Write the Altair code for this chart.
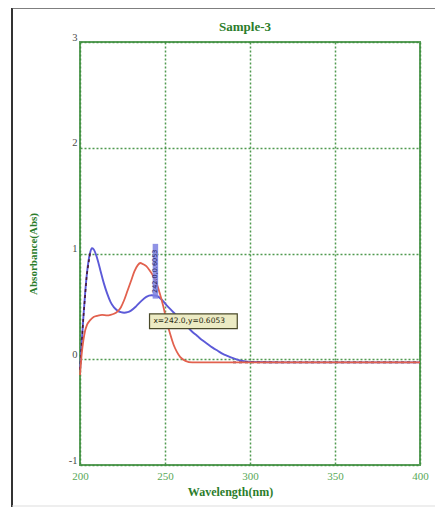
import altair as alt
import pandas as pd

# ---- data ----
blue_wl = [200, 201, 202, 203, 204, 205, 206, 207, 208, 210, 212, 214, 216, 218, 220, 222, 224, 226,
           228, 230, 233, 236, 239, 242, 245, 248, 251, 254, 257, 260, 263, 266, 269, 272, 275, 278,
           281, 284, 287, 290, 294, 300, 320, 350, 380, 400]
blue_abs = [-0.10, 0.15, 0.40, 0.62, 0.80, 0.93, 1.01, 1.05, 1.04, 0.96, 0.84, 0.72, 0.62, 0.54, 0.49,
            0.46, 0.445, 0.44, 0.445, 0.46, 0.50, 0.55, 0.59, 0.6053, 0.60, 0.565, 0.51, 0.46, 0.41,
            0.36, 0.31, 0.26, 0.22, 0.18, 0.145, 0.11, 0.08, 0.05, 0.03, 0.01, -0.01, -0.025, -0.03,
            -0.03, -0.03, -0.03]

red_wl = [200, 201, 202, 203, 204, 206, 208, 210, 213, 216, 218, 220, 222, 224, 226, 228, 230, 232,
          234, 235.5, 237, 239, 241, 243, 245, 247, 249, 251, 253, 255, 257, 259, 262, 266, 300, 350, 400]
red_abs = [-0.15, 0.05, 0.18, 0.27, 0.32, 0.37, 0.40, 0.41, 0.42, 0.415, 0.42, 0.43, 0.45, 0.49, 0.56,
           0.65, 0.74, 0.83, 0.89, 0.91, 0.90, 0.88, 0.84, 0.79, 0.72, 0.62, 0.50, 0.36, 0.24, 0.14,
           0.07, 0.02, -0.015, -0.03, -0.03, -0.03, -0.03]

dash_wl = [200, 202, 204, 206, 290, 320, 350, 380, 400]
dash_abs = [-0.10, 0.40, 0.80, 1.01, -0.03, -0.03, -0.03, -0.03, -0.03]
dash_seg = [1, 1, 1, 1, 2, 2, 2, 2, 2]

x_ticks = [200, 250, 300, 350, 400]
y_ticks = [-1, 0, 1, 2, 3]

ann_x = 242.0
ann_y = 0.6053
ann_label = "x=242.0,y=0.6053"
peak_label = "242.0,0.6053"
title_text = "Sample-3"

GREEN = "#3d8f3d"
TITLE_GREEN = "#2b7d2b"
SERIF = "Liberation Serif"

blue_df = pd.DataFrame({"wl": blue_wl, "abs": blue_abs})
red_df = pd.DataFrame({"wl": red_wl, "abs": red_abs})
dash_df = pd.DataFrame({"wl": dash_wl, "abs": dash_abs, "seg": dash_seg})
ann_df = pd.DataFrame({"wl": [ann_x], "abs": [ann_y], "label": [ann_label], "peak": [peak_label],
                       "title": [title_text]})

xs = alt.Scale(domain=[200, 400], nice=False, zero=False)
ys = alt.Scale(domain=[-1, 3], nice=False, zero=False)

x_axis = alt.Axis(values=x_ticks, title="Wavelength(nm)", grid=True, gridColor=GREEN, gridDash=[2, 2],
                  gridWidth=1.5, gridOpacity=0.9, ticks=False, domain=False, labelFont=SERIF,
                  labelFontSize=11, labelColor="#58a858", labelPadding=5, format="d", titleFont=SERIF,
                  titleFontSize=12, titleFontWeight="bold", titleColor=TITLE_GREEN, titlePadding=0,
                  titleX=150, titleY=21, titleBaseline="top", labelFlush=False)
y_axis = alt.Axis(values=y_ticks, title="Absorbance(Abs)", grid=True, gridColor=GREEN, gridDash=[2, 2],
                  gridWidth=1.5, gridOpacity=0.9, ticks=False, domain=False, labelFont=SERIF,
                  labelFontSize=10.5, labelColor="#4a4a4a", labelPadding=3, labelBaseline="bottom",
                  labelExpr="replace(datum.label, '\u2212', '-')",
                  format="d", titleFont=SERIF, titleFontSize=11, titleFontWeight="bold",
                  titleColor=TITLE_GREEN, titlePadding=30, labelFlush=False)

base_x = alt.X("wl:Q", scale=xs, axis=x_axis)
base_y = alt.Y("abs:Q", scale=ys, axis=y_axis)

blue = alt.Chart(blue_df).mark_line(color="#5c5ad8", strokeWidth=1.9, interpolate="monotone").encode(
    x=base_x, y=base_y)
red = alt.Chart(red_df).mark_line(color="#e2614e", strokeWidth=1.8, interpolate="monotone").encode(
    x=alt.X("wl:Q", scale=xs), y=alt.Y("abs:Q", scale=ys))
dash = alt.Chart(dash_df).mark_line(color="#4a1836", strokeWidth=1.6, strokeDash=[3, 3]).encode(
    x=alt.X("wl:Q", scale=xs), y=alt.Y("abs:Q", scale=ys), detail="seg:N")

box = alt.Chart(ann_df).mark_text(
    font="DejaVu Sans", fontSize=7.5, color="#2a2a10", align="left", baseline="middle", dx=2, dy=26
).encode(x=alt.X("wl:Q", scale=xs), y=alt.Y("abs:Q", scale=ys), text="label:N")
box_bg = alt.Chart(ann_df).mark_point(
    shape="M-1,-0.17L1,-0.17L1,0.17L-1,0.17Z", size=7700, filled=True, fill="#ecebc4",
    stroke="#4a4a2a", strokeWidth=1.2, opacity=1
).encode(x=alt.X("wl:Q", scale=xs), y=alt.Y("abs:Q", scale=ys),
         xOffset=alt.value(42), yOffset=alt.value(26))
peak_bg = alt.Chart(ann_df).mark_point(
    shape="M-0.1,-1L0.1,-1L0.1,1L-0.1,1Z", size=3000, filled=True, fill="#7c80e0",
    strokeWidth=0, opacity=0.85
).encode(x=alt.X("wl:Q", scale=xs), y=alt.Y("abs:Q", scale=ys),
         xOffset=alt.value(4), yOffset=alt.value(-24))
peak_txt = alt.Chart(ann_df).mark_text(
    font="DejaVu Sans", fontSize=6.5, color="#1c1c5c", angle=270, align="center", baseline="middle"
).encode(x=alt.X("wl:Q", scale=xs), y=alt.Y("abs:Q", scale=ys), text="peak:N",
         xOffset=alt.value(4), yOffset=alt.value(-24))

# chart title drawn as text above the plot
title = alt.Chart(ann_df).mark_text(
    font=SERIF, fontSize=13, fontWeight="bold", color=TITLE_GREEN, align="center", baseline="alphabetic"
).encode(x=alt.value(165), y=alt.value(-11), text="title:N")

# outer photo frame (decoration)
frame_left = alt.Chart(ann_df).mark_rule(color="#333333", strokeWidth=2).encode(
    x=alt.value(-68), y=alt.value(-34), y2=alt.value(466))
frame_top = alt.Chart(ann_df).mark_rule(color="#555555", strokeWidth=1.5).encode(
    x=alt.value(-68), x2=alt.value(365), y=alt.value(-34))
frame_bottom = alt.Chart(ann_df).mark_rule(color="#dddddd", strokeWidth=1).encode(
    x=alt.value(-68), x2=alt.value(365), y=alt.value(464))

chart = alt.layer(
    blue, dash, red, peak_bg, peak_txt, box_bg, box, title, frame_left, frame_top, frame_bottom
).properties(
    width=340, height=423,
    autosize=alt.AutoSizeParams(type="none"),
    padding={"left": 72, "top": 34, "right": 15, "bottom": 42},
    background="white",
).configure_view(stroke="#5c9e5c", strokeWidth=2)

chart.save("out.html", embed_options={"renderer": "svg", "actions": False})
